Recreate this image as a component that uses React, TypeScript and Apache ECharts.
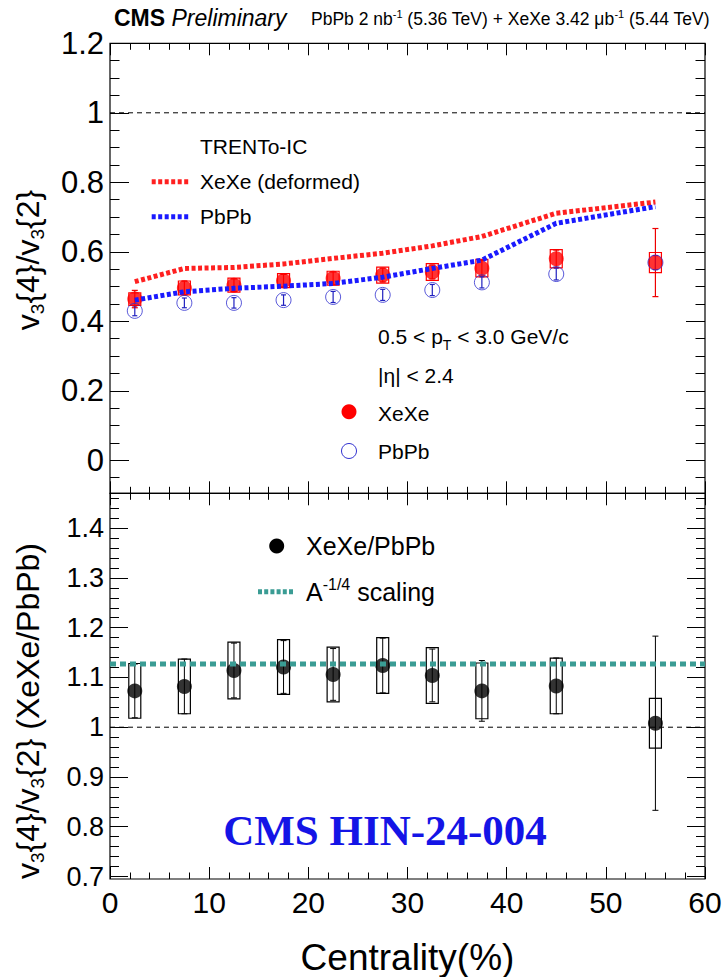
import React, { useEffect, useRef } from "react";
import * as echarts from "echarts";

// ---------- data ----------
const centrality = [2.5, 7.5, 12.5, 17.5, 22.5, 27.5, 32.5, 37.5, 45, 55];

const xexeRatio = [0.464, 0.496, 0.504, 0.517, 0.524, 0.533, 0.542, 0.553, 0.58, 0.569];
const xexeStat = [0.025, 0.02, 0.018, 0.018, 0.018, 0.02, 0.02, 0.022, 0.025, 0.098];
const xexeSys = [0.018, 0.02, 0.02, 0.02, 0.02, 0.023, 0.024, 0.025, 0.026, 0.029];

const pbpbRatio = [0.43, 0.453, 0.453, 0.461, 0.47, 0.476, 0.49, 0.512, 0.536, 0.569];
const pbpbStat = [0.014, 0.014, 0.015, 0.015, 0.016, 0.016, 0.016, 0.016, 0.017, 0.02];

const trentoXeXe = [0.514, 0.552, 0.555, 0.565, 0.581, 0.596, 0.617, 0.644, 0.711, 0.743];
const trentoPbPb = [0.461, 0.485, 0.495, 0.501, 0.509, 0.527, 0.552, 0.576, 0.682, 0.73];

const doubleRatio = [1.073, 1.082, 1.114, 1.121, 1.106, 1.124, 1.104, 1.073, 1.083, 1.008];
const doubleStat = [0.054, 0.055, 0.055, 0.053, 0.052, 0.055, 0.053, 0.061, 0.056, 0.175];
const doubleSys = [0.055, 0.055, 0.057, 0.055, 0.055, 0.056, 0.056, 0.056, 0.056, 0.05];

const aScaling = 1.127;
const unityLine = 1;

const xRange = [0, 60];
const topYRange = [-0.095, 1.2];
const bottomYRange = [0.695, 1.47];
const topYTicks = [0, 0.2, 0.4, 0.6, 0.8, 1, 1.2];
const bottomYTicks = [0.7, 0.8, 0.9, 1, 1.1, 1.2, 1.3, 1.4];

// ---------- helpers ----------
const FONT = "'Liberation Sans', Arial, Helvetica, sans-serif";

function minorTicks(lo: number, hi: number, step: number) {
  const out: number[] = [];
  const n = Math.round((hi - lo) / step);
  for (let i = 0; i <= n; i++) out.push(+(lo + i * step).toFixed(4));
  return out;
}

const fmtY = (v: number) => {
  if (Math.abs(v) < 1e-9) return "0";
  if (Math.abs(v - 1) < 1e-9) return "1";
  return (+v).toFixed(1);
};

function errData(vals: number[], errs: number[]) {
  return centrality.map((c, i) => [c, vals[i], vals[i] - errs[i], vals[i] + errs[i]]);
}

function errBarRender(color: string, cap: number, lw: number) {
  return (params: any, api: any) => {
    const x = api.value(0);
    const p1 = api.coord([x, api.value(3)]);
    const p2 = api.coord([x, api.value(2)]);
    const st = { stroke: color, lineWidth: lw };
    return {
      type: "group",
      children: [
        { type: "line", shape: { x1: p1[0], y1: p1[1], x2: p2[0], y2: p2[1] }, style: st },
        { type: "line", shape: { x1: p1[0] - cap, y1: p1[1], x2: p1[0] + cap, y2: p1[1] }, style: st },
        { type: "line", shape: { x1: p2[0] - cap, y1: p2[1], x2: p2[0] + cap, y2: p2[1] }, style: st },
      ],
    };
  };
}

function boxRender(color: string, halfW: number, lw: number) {
  return (params: any, api: any) => {
    const x = api.value(0);
    const p1 = api.coord([x, api.value(3)]);
    const p2 = api.coord([x, api.value(2)]);
    return {
      type: "rect",
      shape: { x: p1[0] - halfW, y: p1[1], width: 2 * halfW, height: p2[1] - p1[1] },
      style: { fill: "none", stroke: color, lineWidth: lw },
    };
  };
}

function xAxisDef(grid: number, pos: "top" | "bottom", labels: boolean) {
  return {
    type: "value",
    gridIndex: grid,
    position: pos,
    min: xRange[0],
    max: xRange[1],
    interval: 10,
    axisLine: { show: false, onZero: false },
    splitLine: { show: false },
    axisTick: { show: true, inside: true, length: 12, lineStyle: { color: "#000", width: 1 } },
    minorTick: { show: true, splitNumber: 5, length: 6.5, lineStyle: { color: "#000", width: 1 } },
    axisLabel: {
      show: labels,
      fontSize: 30,
      color: "#000",
      fontFamily: FONT,
      margin: 8,
    },
    ...(labels
      ? {
          name: "Centrality(%)",
          nameLocation: "middle",
          nameGap: 60,
          nameTextStyle: { fontSize: 37, color: "#000", fontFamily: FONT },
        }
      : {}),
  };
}

function yAxisDef(
  grid: number,
  pos: "left" | "right",
  range: number[],
  ticks: number[],
  len: number,
  labelSize: number
) {
  return {
    type: "value",
    gridIndex: grid,
    position: pos,
    min: range[0],
    max: range[1],
    axisLine: { show: false, onZero: false },
    splitLine: { show: false },
    axisTick: {
      show: true,
      inside: true,
      length: len,
      customValues: ticks,
      lineStyle: { color: "#000", width: 1 },
    },
    axisLabel: {
      show: labelSize > 0,
      customValues: ticks,
      formatter: fmtY,
      fontSize: labelSize || 12,
      color: "#000",
      fontFamily: FONT,
      margin: 6,
    },
  };
}

export default function App() {
  const ref = useRef<HTMLDivElement>(null);

  useEffect(() => {
    document.body.style.margin = "0";
    const chart = echarts.init(ref.current!, null, { renderer: "svg" });

    const topMinor = minorTicks(-0.05, 1.2, 0.05);
    const botMinor = minorTicks(0.7, 1.46, 0.02);

    const option: any = {
      animation: false,
      backgroundColor: "#fff",
      textStyle: { fontFamily: FONT },
      grid: [
        { left: 110, top: 43.3, width: 595, height: 450, show: true, borderColor: "#000", borderWidth: 1.2, backgroundColor: "transparent" },
        { left: 110, top: 493.3, width: 595, height: 401.7, show: true, borderColor: "#000", borderWidth: 1.2, backgroundColor: "transparent" },
      ],
      xAxis: [
        xAxisDef(0, "bottom", false),
        xAxisDef(0, "top", false),
        xAxisDef(1, "bottom", true),
        xAxisDef(1, "top", false),
      ],
      yAxis: [
        yAxisDef(0, "left", topYRange, topYTicks, 19, 31),
        yAxisDef(0, "left", topYRange, topMinor, 9.5, 0),
        yAxisDef(0, "right", topYRange, topYTicks, 19, 0),
        yAxisDef(0, "right", topYRange, topMinor, 9.5, 0),
        yAxisDef(1, "left", bottomYRange, bottomYTicks, 18, 27),
        yAxisDef(1, "left", bottomYRange, botMinor, 9, 0),
        yAxisDef(1, "right", bottomYRange, bottomYTicks, 18, 0),
        yAxisDef(1, "right", bottomYRange, botMinor, 9, 0),
      ],
      series: [
        // top panel
        {
          type: "line",
          xAxisIndex: 0,
          yAxisIndex: 0,
          data: [[xRange[0], unityLine], [xRange[1], unityLine]],
          symbol: "none",
          lineStyle: { color: "#000", width: 1, type: [5, 4] },
        },
        {
          type: "line",
          xAxisIndex: 0,
          yAxisIndex: 0,
          data: centrality.map((c, i) => [c, trentoXeXe[i]]),
          symbol: "none",
          lineStyle: { color: "#ff2020", width: 5, type: [4, 2.5], cap: "butt" },
        },
        {
          type: "line",
          xAxisIndex: 0,
          yAxisIndex: 0,
          data: centrality.map((c, i) => [c, trentoPbPb[i]]),
          symbol: "none",
          lineStyle: { color: "#1a1aff", width: 5, type: [4, 2.5], cap: "butt" },
        },
        {
          type: "custom",
          xAxisIndex: 0,
          yAxisIndex: 0,
          data: errData(xexeRatio, xexeSys),
          encode: { x: 0, y: 1 },
          renderItem: boxRender("#ff0000", 6, 1.2),
        },
        {
          type: "custom",
          xAxisIndex: 0,
          yAxisIndex: 0,
          data: errData(xexeRatio, xexeStat),
          encode: { x: 0, y: 1 },
          renderItem: errBarRender("#ee0000", 3, 1.2),
        },
        {
          type: "scatter",
          xAxisIndex: 0,
          yAxisIndex: 0,
          data: centrality.map((c, i) => [c, xexeRatio[i]]),
          symbol: "circle",
          symbolSize: 15,
          itemStyle: { color: "#ff0000" },
        },
        {
          type: "scatter",
          xAxisIndex: 0,
          yAxisIndex: 0,
          data: centrality.map((c, i) => [c, pbpbRatio[i]]),
          symbol: "circle",
          symbolSize: 15,
          itemStyle: { color: "rgba(0,0,0,0)", borderColor: "#3030d0", borderWidth: 1 },
        },
        {
          type: "custom",
          xAxisIndex: 0,
          yAxisIndex: 0,
          data: errData(pbpbRatio, pbpbStat),
          encode: { x: 0, y: 1 },
          renderItem: errBarRender("#2020c0", 2.5, 1.2),
        },
        // bottom panel
        {
          type: "line",
          xAxisIndex: 2,
          yAxisIndex: 4,
          data: [[xRange[0], unityLine], [xRange[1], unityLine]],
          symbol: "none",
          lineStyle: { color: "#000", width: 1, type: [5, 4] },
        },
        {
          type: "line",
          xAxisIndex: 2,
          yAxisIndex: 4,
          data: [[xRange[0], aScaling], [xRange[1], aScaling]],
          symbol: "none",
          lineStyle: { color: "#3a9c94", width: 5, type: [6, 4], cap: "butt" },
        },
        {
          type: "custom",
          xAxisIndex: 2,
          yAxisIndex: 4,
          data: errData(doubleRatio, doubleSys),
          encode: { x: 0, y: 1 },
          renderItem: boxRender("#000", 6, 1.2),
        },
        {
          type: "custom",
          xAxisIndex: 2,
          yAxisIndex: 4,
          data: errData(doubleRatio, doubleStat),
          encode: { x: 0, y: 1 },
          renderItem: errBarRender("#000", 3, 1),
        },
        {
          type: "scatter",
          xAxisIndex: 2,
          yAxisIndex: 4,
          data: centrality.map((c, i) => [c, doubleRatio[i]]),
          symbol: "circle",
          symbolSize: 15,
          itemStyle: { color: "#000" },
        },
      ],
      graphic: [
        {
          type: "text",
          x: 114,
          y: 18,
          style: {
            text: "{b|CMS} {i|Preliminary}",
            verticalAlign: "middle",
            align: "left",
            fill: "#000",
            fontFamily: FONT,
            fontSize: 23,
            rich: {
              b: { fontSize: 23, fontWeight: "bold", fontFamily: FONT, fill: "#000" },
              i: { fontSize: 23, fontStyle: "italic", fontFamily: FONT, fill: "#000" },
            },
          },
        },
        {
          type: "text",
          x: 311,
          y: 19,
          style: {
            text: "PbPb 2 nb{sup|-1} (5.36 TeV) + XeXe 3.42 μb{sup|-1} (5.44 TeV)",
            verticalAlign: "middle",
            align: "left",
            fill: "#000",
            fontFamily: FONT,
            fontSize: 17.5,
            lineHeight: 22,
            rich: { sup: { fontSize: 11, verticalAlign: "top", height: 12, fontFamily: FONT, fill: "#000" } },
          },
        },
        // y titles
        {
          type: "text",
          x: 28,
          y: 260,
          rotation: Math.PI / 2,
          style: {
            text: "v{s|3}{4}/v{s|3}{2}",
            align: "center",
            verticalAlign: "middle",
            fill: "#000",
            fontFamily: FONT,
            fontSize: 32,
            lineHeight: 40,
            rich: { s: { fontSize: 19, verticalAlign: "bottom", height: 22, fontFamily: FONT, fill: "#000" } },
          },
        },
        {
          type: "text",
          x: 28,
          y: 711,
          rotation: Math.PI / 2,
          style: {
            text: "v{s|3}{4}/v{s|3}{2} (XeXe/PbPb)",
            align: "center",
            verticalAlign: "middle",
            fill: "#000",
            fontFamily: FONT,
            fontSize: 32,
            lineHeight: 40,
            rich: { s: { fontSize: 19, verticalAlign: "bottom", height: 22, fontFamily: FONT, fill: "#000" } },
          },
        },
        // top legend (model)
        { type: "text", x: 200, y: 146.7, style: { text: "TRENTo-IC", fontSize: 21, fontFamily: FONT, fill: "#000", verticalAlign: "middle" } },
        {
          type: "line",
          shape: { x1: 151.7, y1: 181.7, x2: 190.7, y2: 181.7 },
          style: { stroke: "#ff2020", lineWidth: 5, lineDash: [4, 2.5] },
        },
        { type: "text", x: 200, y: 181.7, style: { text: "XeXe (deformed)", fontSize: 21, fontFamily: FONT, fill: "#000", verticalAlign: "middle" } },
        {
          type: "line",
          shape: { x1: 151.7, y1: 216.7, x2: 190.7, y2: 216.7 },
          style: { stroke: "#1a1aff", lineWidth: 5, lineDash: [4, 2.5] },
        },
        { type: "text", x: 200, y: 216.7, style: { text: "PbPb", fontSize: 21, fontFamily: FONT, fill: "#000", verticalAlign: "middle" } },
        // top legend (data)
        {
          type: "text",
          x: 378,
          y: 336.7,
          style: {
            text: "0.5 < p{sub|T} < 3.0 GeV/c",
            fontSize: 21,
            lineHeight: 28,
            fontFamily: FONT,
            fill: "#000",
            verticalAlign: "middle",
            rich: { sub: { fontSize: 14, verticalAlign: "bottom", height: 12, fontFamily: FONT, fill: "#000" } },
          },
        },
        { type: "text", x: 378, y: 375, style: { text: "|η| < 2.4", fontSize: 21, fontFamily: FONT, fill: "#000", verticalAlign: "middle" } },
        { type: "circle", shape: { cx: 349, cy: 411.7, r: 7.5 }, style: { fill: "#ff0000" } },
        { type: "text", x: 378, y: 413, style: { text: "XeXe", fontSize: 21, fontFamily: FONT, fill: "#000", verticalAlign: "middle" } },
        { type: "circle", shape: { cx: 349, cy: 451, r: 7.5 }, style: { fill: "none", stroke: "#3030d0", lineWidth: 1 } },
        { type: "text", x: 378, y: 451.7, style: { text: "PbPb", fontSize: 21, fontFamily: FONT, fill: "#000", verticalAlign: "middle" } },
        // bottom legend
        { type: "circle", shape: { cx: 276.7, cy: 546, r: 7.5 }, style: { fill: "#000" } },
        { type: "text", x: 306, y: 546, style: { text: "XeXe/PbPb", fontSize: 25, fontFamily: FONT, fill: "#000", verticalAlign: "middle" } },
        {
          type: "line",
          shape: { x1: 258, y1: 591.7, x2: 295, y2: 591.7 },
          style: { stroke: "#3a9c94", lineWidth: 5, lineDash: [4, 2.2] },
        },
        {
          type: "text",
          x: 306,
          y: 592,
          style: {
            text: "A{sup|-1/4} scaling",
            fontSize: 25,
            lineHeight: 32,
            fontFamily: FONT,
            fill: "#000",
            verticalAlign: "middle",
            rich: { sup: { fontSize: 16, verticalAlign: "top", height: 16, fontFamily: FONT, fill: "#000" } },
          },
        },
        {
          type: "text",
          x: 385,
          y: 830,
          style: {
            text: "CMS HIN-24-004",
            fontSize: 43,
            fontWeight: "bold",
            fontFamily: "'Liberation Serif', 'Times New Roman', serif",
            fill: "#1414e6",
            align: "center",
            verticalAlign: "middle",
          },
        },
      ],
    };

    chart.setOption(option);
    return () => chart.dispose();
  }, []);

  return (
    <div
      ref={ref}
      style={{ position: "fixed", left: 0, top: 0, width: 727, height: 977, background: "#fff" }}
    />
  );
}
